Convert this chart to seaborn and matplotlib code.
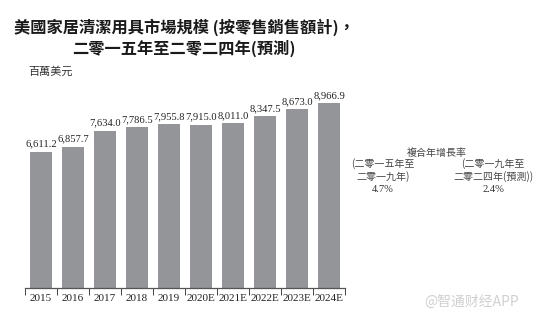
import matplotlib
matplotlib.use("Agg")
import matplotlib.pyplot as plt
import seaborn as sns
import pandas as pd
import numpy as np

years = ["2015", "2016", "2017", "2018", "2019", "2020E", "2021E", "2022E", "2023E", "2024E"]
values = [6611.2, 6857.7, 7634.0, 7786.5, 7955.8, 7915.0, 8011.0, 8347.5, 8673.0, 8966.9]
value_labels = ["6,611.2", "6,857.7", "7,634.0", "7,786.5", "7,955.8", "7,915.0", "8,011.0", "8,347.5", "8,673.0", "8,966.9"]

title_line1 = "美國家居清潔用具市場規模 (按零售銷售額計)，"
title_line2 = "二零一五年至二零二四年(預測)"
unit_label = "百萬美元"
cagr_title = "複合年增長率"
cagr_periods = ["(二零一五年至\n二零一九年)", "(二零一九年至\n二零二四年(預測))"]
cagr_values = ["4.7%", "2.4%"]
watermark = "@智通财经APP"

sns.set_theme(style="white")
plt.rcParams['font.family'] = ['Liberation Serif', 'Noto Sans CJK TC', 'DejaVu Sans']

df = pd.DataFrame({"year": years, "value": values})

fig = plt.figure(figsize=(5.44, 3.22), dpi=100)
ax = fig.add_axes([25/544, 1 - 287.5/322, 320/544, (287.5 - 60)/322])

sns.barplot(data=df, x="year", y="value", color="#939598", width=0.68,
            saturation=1, ax=ax, edgecolor="none")

ax.set_ylim(0, 227.5/0.02055)
ax.set_xlim(-0.5, len(years) - 0.5)
ax.set_xlabel("")
ax.set_ylabel("")
ax.set_yticks([])
for s in ["top", "right", "left"]:
    ax.spines[s].set_visible(False)
ax.spines["bottom"].set_color("#555555")
ax.spines["bottom"].set_linewidth(0.9)

ax.set_xticks(range(len(years)))
ax.set_xticklabels(years, fontsize=8, family=['Liberation Serif'], color="#222222")
ax.tick_params(axis="x", which="major", length=0, pad=5)
ax.set_xticks(np.arange(-0.5, len(years)), minor=True)
ax.tick_params(axis="x", which="minor", length=5, width=0.7, color="#444444", direction="out", bottom=True)

for i, (v, lab) in enumerate(zip(values, value_labels)):
    ax.text(i, v + 150, lab, ha="center", va="bottom", fontsize=7.6,
            family=['Liberation Serif'], color="#222222")

fig.text(184/544, 1 - 27/322, title_line1, ha="center", va="center", fontsize=11.7,
         fontweight="bold", family=['Noto Sans CJK TC'], color="#1a1a1a")
fig.text(184/544, 1 - 48/322, title_line2, ha="center", va="center", fontsize=11.7,
         fontweight="bold", family=['Noto Sans CJK TC'], color="#1a1a1a")
fig.text(28/544, 1 - 72/322, unit_label, ha="left", va="center", fontsize=8,
         family=['Noto Sans CJK TC'], color="#333333")

fig.text(437/544, 1 - 153/322, cagr_title, ha="center", va="center", fontsize=7.2,
         family=['Noto Sans CJK TC'], color="#444444")
for cx, per, val in zip([383, 493], cagr_periods, cagr_values):
    fig.text(cx/544, 1 - 170/322, per, ha="center", va="center", fontsize=7.2,
             family=['Noto Sans CJK TC'], color="#444444", linespacing=1.25)
    fig.text(cx/544, 1 - 190/322, val, ha="center", va="center", fontsize=7.6,
             family=['Liberation Serif'], color="#333333")

fig.text(472/544, 1 - 302/322, watermark, ha="center", va="center", fontsize=10,
         family=['Noto Sans CJK SC'], color="#d0d0d0")

fig.savefig("out.png", dpi=100)
